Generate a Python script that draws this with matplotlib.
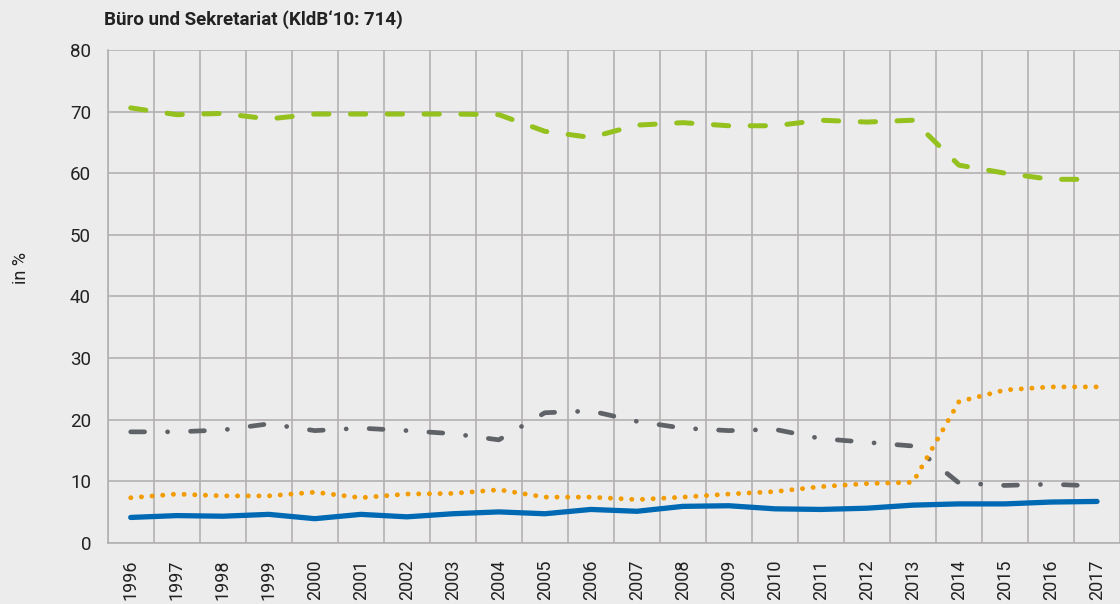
import matplotlib
matplotlib.use("Agg")
import matplotlib.pyplot as plt
import numpy as np

plt.rcParams['font.family'] = ['Roboto', 'DejaVu Sans']
plt.rcParams['lines.scale_dashes'] = False

years = [str(y) for y in range(1996, 2018)]
# values, in %
green = [70.6, 69.5, 69.7, 68.8, 69.6, 69.6, 69.6, 69.6, 69.5, 66.8, 65.8, 67.8,
         68.2, 67.7, 67.7, 68.6, 68.3, 68.6, 61.3, 60.0, 59.0, 59.0]
grey = [18.0, 18.0, 18.3, 19.3, 18.2, 18.6, 18.2, 17.7, 16.7, 21.1, 21.4, 19.7,
        18.6, 18.2, 18.4, 16.9, 16.3, 15.7, 9.7, 9.3, 9.5, 9.2]
orange = [7.3, 7.9, 7.6, 7.6, 8.2, 7.3, 7.9, 8.0, 8.6, 7.4, 7.4, 7.0,
          7.4, 7.9, 8.3, 9.1, 9.6, 9.8, 22.9, 24.8, 25.3, 25.3]
blue = [4.1, 4.4, 4.3, 4.6, 3.9, 4.6, 4.2, 4.7, 5.0, 4.7, 5.4, 5.1,
        5.9, 6.0, 5.5, 5.4, 5.6, 6.1, 6.3, 6.3, 6.6, 6.7]

bg = '#ececec'
gridc = '#b3b0b0'

fig = plt.figure(figsize=(11.2, 6.04), dpi=100, facecolor=bg)
ax = fig.add_axes([107.7 / 1120, 1 - 542.7 / 604, 1 - 107.7 / 1120, (542.7 - 50) / 604])
ax.set_facecolor(bg)

x = np.arange(len(years))
ax.plot(x, green, color='#95c11f', lw=3.6, dashes=(11, 15.5),
        dash_capstyle='round', solid_joinstyle='round')
ax.plot(x, grey, color='#5f6266', lw=3.4, dashes=(10, 16.5, 0.1, 16.5),
        dash_capstyle='round')
ax.plot(x, orange, color='#f39c00', lw=3.5, dashes=(0.1, 7.6),
        dash_capstyle='round')
ax.plot(x, blue, color='#0069b4', lw=3.8, solid_capstyle='round',
        solid_joinstyle='round')

ax.set_xlim(-0.5, len(years) - 0.5)
ax.set_ylim(0, 80)
ax.set_yticks(range(0, 81, 10))
ax.set_xticks(x)
ax.set_xticklabels(years, rotation=90, fontsize=13, color='#222222')
ax.set_xticks(np.arange(-0.5, len(years), 1), minor=True)
ax.tick_params(axis='both', which='both', length=0)
ax.tick_params(axis='x', pad=12)
ax.tick_params(axis='y', labelsize=13.5, labelcolor='#222222', pad=12)

ax.grid(True, which='major', axis='y', color=gridc, lw=1.2)
ax.grid(True, which='minor', axis='x', color=gridc, lw=1.2)
ax.set_axisbelow(True)
for s in ['top', 'right']:
    ax.spines[s].set_visible(False)
for s in ['left', 'bottom']:
    ax.spines[s].set_color(gridc)
    ax.spines[s].set_linewidth(1.2)

fig.text(21.5 / 1120, 1 - 268 / 604, 'in %', rotation=90, fontsize=13,
         color='#222222', ha='center', va='center')
fig.text(104 / 1120, 1 - 20 / 604, 'Büro und Sekretariat (KldB‘10: 714)',
         fontsize=13.5, fontweight='bold', color='#222222', ha='left', va='center')

fig.savefig('out.png', dpi=100, facecolor=bg)
